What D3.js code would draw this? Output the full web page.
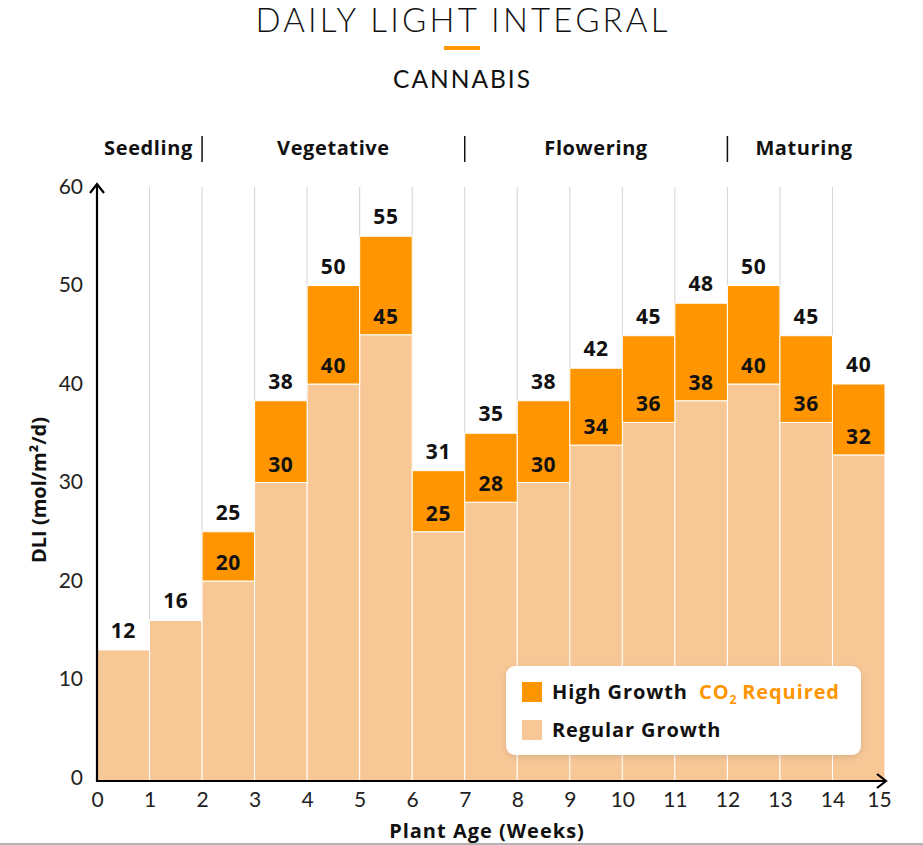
<!DOCTYPE html>
<html>
<head>
<meta charset="utf-8">
<script src="https://cdn.jsdelivr.net/npm/d3@7/dist/d3.min.js"></script>
<style>
  html, body { margin: 0; padding: 0; background: #fff; }
  svg { display: block; }
  text { font-family: Lato, "Open Sans", sans-serif; }
  .b { font-family: "Open Sans", Lato, sans-serif; font-weight: 700; }
</style>
</head>
<body>
<svg id="chart" width="923" height="845"></svg>
<script>
// ---- data ----
const weeks = [0,1,2,3,4,5,6,7,8,9,10,11,12,13,14];
const regularValues = [13,16,20,30,40,45,25,28,30,33.8,36.1,38.3,40,36.1,32.8];
const totalValues   = [13,16,25,38.3,50,55,31.2,35,38.3,41.6,44.9,48.2,50,44.9,40];
const totalLabels   = ["12","16","25","38","50","55","31","35","38","42","45","48","50","45","40"];
const regularLabels = [null,null,"20","30","40","45","25","28","30","34","36","38","40","36","32"];
const xTicks = [0,1,2,3,4,5,6,7,8,9,10,11,12,13,14,15];
const yTicks = [0,10,20,30,40,50,60];
const phases = ["Seedling","Vegetative","Flowering","Maturing"];
const phaseStarts = [0,2,7,12];
const phaseEnds = [2,7,12,15];
const phaseDividers = [2,7,12];

const colHigh = "#FF9500", colReg = "#F8C796";

const svg = d3.select("#chart");
const x = d3.scaleLinear().domain([0,15]).range([97,885]);
const y = d3.scaleLinear().domain([0,60]).range([778,187]);

// bottom frame line
svg.append("rect").attr("x",0).attr("y",843).attr("width",923).attr("height",2).attr("fill","#b3b3b3");

// title
svg.append("text").attr("x",463).attr("y",32).attr("text-anchor","middle")
  .attr("font-size",33).attr("font-weight",300).attr("letter-spacing",3.2).attr("fill","#111").text("DAILY LIGHT INTEGRAL");
svg.append("rect").attr("x",444).attr("y",46).attr("width",36).attr("height",4).attr("fill",colHigh);
svg.append("text").attr("x",462.5).attr("y",88).attr("text-anchor","middle")
  .attr("font-size",24.5).attr("font-weight",400).attr("letter-spacing",2).attr("fill","#111").text("CANNABIS");

// phases
const phaseX = [148.5, null, null, 804];
svg.selectAll(".phase").data(phases).join("text").attr("class","b")
  .attr("x",(d,i)=> phaseX[i] !== null ? phaseX[i] : (x(phaseStarts[i])+x(phaseEnds[i]))/2)
  .attr("y",155).attr("text-anchor","middle")
  .attr("font-size",20).attr("letter-spacing",0.6).attr("fill","#111").text(d=>d);
svg.selectAll(".pdiv").data(phaseDividers).join("line")
  .attr("x1",d=>x(d)).attr("x2",d=>x(d)).attr("y1",136).attr("y2",162)
  .attr("stroke","#111").attr("stroke-width",1.5);

// vertical grid
svg.selectAll(".grid").data(d3.range(1,15)).join("line")
  .attr("x1",d=>x(d)).attr("x2",d=>x(d)).attr("y1",y(60)).attr("y2",y(0))
  .attr("stroke","#d4d4d4").attr("stroke-width",1);

// bars
const g = svg.append("g");
g.selectAll(".reg").data(weeks).join("rect")
  .attr("x",d=>x(d)).attr("width",d=>x(d+1)-x(d))
  .attr("y",(d,i)=>y(regularValues[i])).attr("height",(d,i)=>y(0)+3-y(regularValues[i]))
  .attr("fill",colReg).attr("stroke","#fff").attr("stroke-width",1);
g.selectAll(".high").data(weeks.filter((d,i)=>totalValues[i]>regularValues[i])).join("rect")
  .attr("x",d=>x(d)).attr("width",d=>x(d+1)-x(d))
  .attr("y",d=>y(totalValues[d])).attr("height",d=>y(regularValues[d])-y(totalValues[d]))
  .attr("fill",colHigh).attr("stroke","#fff").attr("stroke-width",1);

// value labels
g.selectAll(".tl").data(weeks).join("text").attr("class","b")
  .attr("x",d=>(x(d)+x(d+1))/2).attr("y",d=>y(totalValues[d])-12)
  .attr("text-anchor","middle").attr("font-size",21).attr("letter-spacing",0.6).attr("fill","#111")
  .text(d=>totalLabels[d]);
g.selectAll(".rl").data(weeks.filter(d=>regularLabels[d])).join("text").attr("class","b")
  .attr("x",d=>(x(d)+x(d+1))/2).attr("y",d=>y(regularValues[d])-11)
  .attr("text-anchor","middle").attr("font-size",21).attr("letter-spacing",0.6).attr("fill","#111")
  .text(d=>regularLabels[d]);

// axes
const yAxis = svg.append("g").attr("transform",`translate(${x(0)},0)`)
  .call(d3.axisLeft(y).tickValues(yTicks).tickSize(0).tickPadding(14));
yAxis.select(".domain").remove();
yAxis.selectAll("text").attr("font-size",21).attr("fill","#222").attr("font-family","Lato, sans-serif").attr("dy","0.3em");

const xAxis = svg.append("g").attr("transform",`translate(0,782)`)
  .call(d3.axisBottom(x).tickValues(xTicks).tickSize(0).tickPadding(10));
xAxis.select(".domain").remove();
xAxis.selectAll("text").attr("font-size",21).attr("fill","#222").attr("font-family","Lato, sans-serif")
  .attr("dx",d=>d===15?-6:0);

// axis lines with arrows
svg.append("line").attr("x1",x(0)).attr("x2",x(0)).attr("y1",782).attr("y2",184)
  .attr("stroke","#000").attr("stroke-width",2.2);
svg.append("path").attr("d",`M${x(0)-7},${193} L${x(0)},${184} L${x(0)+7},${193}`)
  .attr("fill","none").attr("stroke","#000").attr("stroke-width",2.2);
svg.append("line").attr("x1",x(0)-1).attr("x2",886).attr("y1",781).attr("y2",781)
  .attr("stroke","#000").attr("stroke-width",2.2);
svg.append("path").attr("d",`M${877},${774} L${886},${781} L${877},${788}`)
  .attr("fill","none").attr("stroke","#000").attr("stroke-width",2.2);

// axis titles
svg.append("text").attr("class","b").attr("transform","translate(46,490) rotate(-90)").attr("text-anchor","middle")
  .attr("font-size",20).attr("fill","#111").text("DLI (mol/m²/d)");
svg.append("text").attr("class","b").attr("x",487).attr("y",838).attr("text-anchor","middle")
  .attr("font-size",20).attr("letter-spacing",1).attr("fill","#111").text("Plant Age (Weeks)");

// legend
const defs = svg.append("defs");
const f = defs.append("filter").attr("id","sh").attr("x","-10%").attr("y","-20%").attr("width","120%").attr("height","150%");
f.append("feDropShadow").attr("dx",0).attr("dy",2).attr("stdDeviation",3).attr("flood-color","#000").attr("flood-opacity",0.12);
const lg = svg.append("g");
lg.append("rect").attr("x",506).attr("y",666).attr("width",355).attr("height",89).attr("rx",9)
  .attr("fill","#fff").attr("filter","url(#sh)");
lg.append("rect").attr("x",522).attr("y",682).attr("width",20).attr("height",20).attr("fill",colHigh);
lg.append("rect").attr("x",522).attr("y",720).attr("width",20).attr("height",20).attr("fill",colReg);
lg.append("text").attr("class","b").attr("x",552).attr("y",699).attr("font-size",20).attr("letter-spacing",0.9).attr("fill","#111").text("High Growth");
const co = lg.append("text").attr("class","b").attr("x",699).attr("y",699).attr("font-size",20).attr("letter-spacing",0.9).attr("fill",colHigh);
co.append("tspan").text("CO");
co.append("tspan").attr("font-size",12).attr("dy",5).text("2");
co.append("tspan").attr("dy",-5).attr("dx",5).text("Required");
lg.append("text").attr("class","b").attr("x",552).attr("y",737).attr("font-size",20).attr("letter-spacing",0.9).attr("fill","#111").text("Regular Growth");
</script>
</body>
</html>
